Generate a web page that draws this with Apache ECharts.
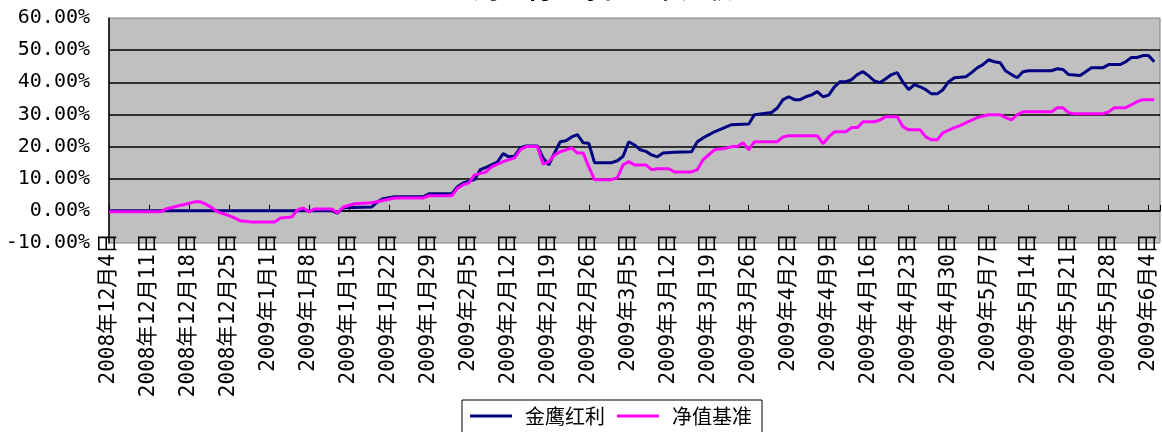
<!DOCTYPE html>
<html>
<head>
<meta charset="utf-8">
<script src="https://cdn.jsdelivr.net/npm/echarts@6/dist/echarts.min.js"></script>
<style>
html, body { margin: 0; padding: 0; background: #fff; }
#chart { width: 1162px; height: 432px; }
</style>
</head>
<body>
<div id="chart"></div>
<script>
const titleText = '金鹰红利与净值基准比较';
const fundName = '金鹰红利';
const benchName = '净值基准';
const startDate = '2008-12-04';
const lastLabelDay = 182;

const fundDates = [
    '2008-12-04', '2009-01-12', '2009-01-13', '2009-01-14', '2009-01-19', '2009-01-20', '2009-01-21', '2009-01-23',
    '2009-01-28', '2009-01-29', '2009-02-02', '2009-02-03', '2009-02-04', '2009-02-06', '2009-02-07', '2009-02-08',
    '2009-02-10', '2009-02-11', '2009-02-12', '2009-02-13', '2009-02-14', '2009-02-15', '2009-02-17', '2009-02-18',
    '2009-02-19', '2009-02-20', '2009-02-21', '2009-02-22', '2009-02-23', '2009-02-24', '2009-02-25', '2009-02-26',
    '2009-02-27', '2009-03-02', '2009-03-03', '2009-03-04', '2009-03-05', '2009-03-06', '2009-03-07', '2009-03-08',
    '2009-03-09', '2009-03-10', '2009-03-11', '2009-03-13', '2009-03-16', '2009-03-17', '2009-03-18', '2009-03-20',
    '2009-03-23', '2009-03-26', '2009-03-27', '2009-03-30', '2009-03-31', '2009-04-01', '2009-04-02', '2009-04-03',
    '2009-04-04', '2009-04-05', '2009-04-06', '2009-04-07', '2009-04-08', '2009-04-09', '2009-04-10', '2009-04-11',
    '2009-04-12', '2009-04-13', '2009-04-14', '2009-04-15', '2009-04-16', '2009-04-17', '2009-04-18', '2009-04-19',
    '2009-04-20', '2009-04-21', '2009-04-22', '2009-04-23', '2009-04-24', '2009-04-25', '2009-04-26', '2009-04-27',
    '2009-04-28', '2009-04-29', '2009-04-30', '2009-05-01', '2009-05-03', '2009-05-04', '2009-05-05', '2009-05-06',
    '2009-05-07', '2009-05-08', '2009-05-09', '2009-05-10', '2009-05-11', '2009-05-12', '2009-05-13', '2009-05-14',
    '2009-05-18', '2009-05-19', '2009-05-20', '2009-05-21', '2009-05-23', '2009-05-24', '2009-05-25', '2009-05-27',
    '2009-05-28', '2009-05-30', '2009-05-31', '2009-06-01', '2009-06-02', '2009-06-03', '2009-06-04', '2009-06-05'
];
const fundValues = [
    0, 0, -0.7, 1.0, 1.2, 2.8, 3.8, 4.4,
    4.4, 5.3, 5.3, 7.5, 8.7, 9.7, 12.8, 13.5,
    15.2, 17.8, 16.8, 17.0, 19.6, 20.2, 20.2, 16.5,
    14.3, 18, 21.5, 21.8, 23, 23.7, 21.2, 21,
    15, 15, 15.6, 17, 21.5, 20.5, 19, 18.5,
    17.4, 16.8, 18, 18.2, 18.4, 21.5, 22.7, 24.6,
    26.8, 27, 29.9, 30.6, 32, 34.6, 35.5, 34.6,
    34.6, 35.5, 36.1, 37.1, 35.5, 36, 38.6, 40.2,
    40.2, 40.8, 42.4, 43.3, 42, 40.4, 39.9, 41.1,
    42.4, 43, 40, 37.7, 39.3, 38.6, 37.7, 36.4,
    36.4, 37.7, 40.2, 41.4, 41.7, 43, 44.5, 45.5,
    47, 46.4, 46.1, 43.5, 42.4, 41.4, 43.3, 43.6,
    43.6, 44.2, 44, 42.4, 42.1, 43.3, 44.5, 44.5,
    45.5, 45.5, 46.4, 47.7, 47.7, 48.3, 48.3, 46.4
];

const benchDates = [
    '2008-12-04', '2008-12-13', '2008-12-14', '2008-12-16', '2008-12-17', '2008-12-19', '2008-12-20', '2008-12-21',
    '2008-12-22', '2008-12-23', '2008-12-25', '2008-12-26', '2008-12-27', '2008-12-29', '2009-01-02', '2009-01-03',
    '2009-01-05', '2009-01-06', '2009-01-07', '2009-01-08', '2009-01-09', '2009-01-12', '2009-01-13', '2009-01-14',
    '2009-01-16', '2009-01-19', '2009-01-21', '2009-01-23', '2009-01-28', '2009-01-29', '2009-02-02', '2009-02-03',
    '2009-02-04', '2009-02-05', '2009-02-06', '2009-02-08', '2009-02-09', '2009-02-11', '2009-02-13', '2009-02-14',
    '2009-02-15', '2009-02-17', '2009-02-18', '2009-02-19', '2009-02-20', '2009-02-21', '2009-02-23', '2009-02-24',
    '2009-02-25', '2009-02-26', '2009-02-27', '2009-03-02', '2009-03-03', '2009-03-04', '2009-03-05', '2009-03-06',
    '2009-03-08', '2009-03-09', '2009-03-10', '2009-03-12', '2009-03-13', '2009-03-16', '2009-03-17', '2009-03-18',
    '2009-03-20', '2009-03-22', '2009-03-23', '2009-03-24', '2009-03-25', '2009-03-26', '2009-03-27', '2009-03-31',
    '2009-04-01', '2009-04-02', '2009-04-07', '2009-04-08', '2009-04-09', '2009-04-10', '2009-04-12', '2009-04-13',
    '2009-04-14', '2009-04-15', '2009-04-17', '2009-04-18', '2009-04-19', '2009-04-21', '2009-04-22', '2009-04-23',
    '2009-04-25', '2009-04-26', '2009-04-27', '2009-04-28', '2009-04-29', '2009-05-01', '2009-05-02', '2009-05-03',
    '2009-05-05', '2009-05-07', '2009-05-09', '2009-05-10', '2009-05-11', '2009-05-12', '2009-05-13', '2009-05-18',
    '2009-05-19', '2009-05-20', '2009-05-21', '2009-05-22', '2009-05-27', '2009-05-28', '2009-05-29', '2009-05-31',
    '2009-06-01', '2009-06-02', '2009-06-03', '2009-06-05'
];
const benchValues = [
    -0.3, -0.3, 0.6, 1.5, 1.9, 2.8, 2.8, 2.0,
    1.0, -0.3, -1.5, -2.2, -3.1, -3.5, -3.5, -2.2,
    -1.9, 0.3, 0.9, -0.3, 0.6, 0.6, -0.6, 1.2,
    2.2, 2.5, 3.2, 4.0, 4.0, 4.7, 4.7, 7,
    8.1, 8.7, 11.2, 12.1, 13.7, 15.3, 16.5, 19,
    20, 20, 14.5, 15.3, 17.4, 18.4, 19.6, 18,
    18, 13.7, 9.7, 9.7, 10.3, 14.3, 15.3, 14.3,
    14.3, 12.8, 13.1, 13.1, 12.1, 12.1, 12.8, 15.9,
    19, 19.5, 20, 20, 21.2, 19, 21.5, 21.5,
    23, 23.4, 23.4, 20.9, 23, 24.6, 24.6, 25.9,
    25.9, 27.7, 27.7, 28.3, 29.3, 29.3, 26.2, 25.2,
    25.2, 23, 22.1, 22.1, 24.3, 25.9, 26.5, 27.4,
    29, 29.9, 29.9, 29, 28.3, 29.9, 30.8, 30.8,
    32.1, 32.1, 30.5, 30.2, 30.2, 30.8, 32.1, 32.1,
    33, 34, 34.6, 34.6
];

const DAY = 86400000;
const toUtc = (s) => {
    const [y, m, d] = s.split('-').map(Number);
    return Date.UTC(y, m - 1, d);
};
const dayOf = (s) => Math.round((toUtc(s) - toUtc(startDate)) / DAY);
const labelOf = (n) => {
    const d = new Date(toUtc(startDate) + n * DAY);
    return d.getUTCFullYear() + '年' + (d.getUTCMonth() + 1) + '月' + d.getUTCDate() + '日';
};
const pairs = (dates, values) => dates.map((s, i) => [dayOf(s), values[i]]);

const chart = echarts.init(document.getElementById('chart'), null, {renderer: 'canvas'});
chart.setOption({
    animation: false,
    backgroundColor: '#fff',
    title: {
        text: titleText,
        left: 442,
        top: -30,
        textStyle: {fontFamily: 'Noto Sans CJK SC', fontSize: 26, fontWeight: 'bold', color: '#000'}
    },
    legend: {
        data: [fundName, benchName],
        left: 462,
        top: 400,
        padding: [6, 10, 8, 8],
        borderColor: '#000',
        borderWidth: 1,
        itemGap: 12,
        icon: 'rect',
        itemWidth: 42,
        itemHeight: 3,
        textStyle: {fontFamily: 'Noto Sans CJK SC', fontSize: 20, color: '#000', padding: [0, 0, 0, 8]}
    },
    grid: {
        left: 109,
        right: 2,
        top: 18,
        height: 225,
        show: true,
        backgroundColor: '#c0c0c0',
        borderColor: '#808080',
        borderWidth: 1
    },
    xAxis: [{
        type: 'value',
        min: 0,
        max: 184,
        interval: 7,
        position: 'bottom',
        axisLine: {show: true, onZero: true, lineStyle: {color: '#000', width: 1.5}},
        axisTick: {show: true, inside: true, length: 6, lineStyle: {color: '#000'}},
        axisLabel: {show: false},
        splitLine: {show: false}
    }, {
        type: 'value',
        min: 0,
        max: 184,
        interval: 7,
        position: 'bottom',
        offset: -19,
        axisLine: {show: false, onZero: false},
        axisTick: {show: false},
        splitLine: {show: false},
        axisLabel: {
            rotate: 90,
            margin: 9,
            fontFamily: 'DejaVu Sans Mono, Noto Sans CJK SC',
            fontSize: 21,
            color: '#000',
            showMaxLabel: false,
            formatter: (v) => (v % 7 === 0 && v <= lastLabelDay) ? labelOf(v) : ''
        }
    }],
    yAxis: {
        type: 'value',
        min: -10,
        max: 60,
        interval: 10,
        axisLine: {show: true, lineStyle: {color: '#000', width: 1.5}},
        axisTick: {show: false},
        axisLabel: {
            margin: 19,
            fontFamily: 'DejaVu Sans Mono',
            fontSize: 20,
            color: '#000',
            formatter: (v) => v.toFixed(2) + '%'
        },
        splitLine: {show: true, showMinLine: false, showMaxLine: false, lineStyle: {color: '#000', width: 1.5}}
    },
    series: [{
        name: fundName,
        type: 'line',
        xAxisIndex: 0,
        showSymbol: false,
        symbol: 'none',
        color: '#000080',
        lineStyle: {color: '#000080', width: 3},
        data: pairs(fundDates, fundValues)
    }, {
        name: benchName,
        type: 'line',
        xAxisIndex: 0,
        showSymbol: false,
        symbol: 'none',
        color: '#ff00ff',
        lineStyle: {color: '#ff00ff', width: 3},
        data: pairs(benchDates, benchValues)
    }]
});
</script>
</body>
</html>
